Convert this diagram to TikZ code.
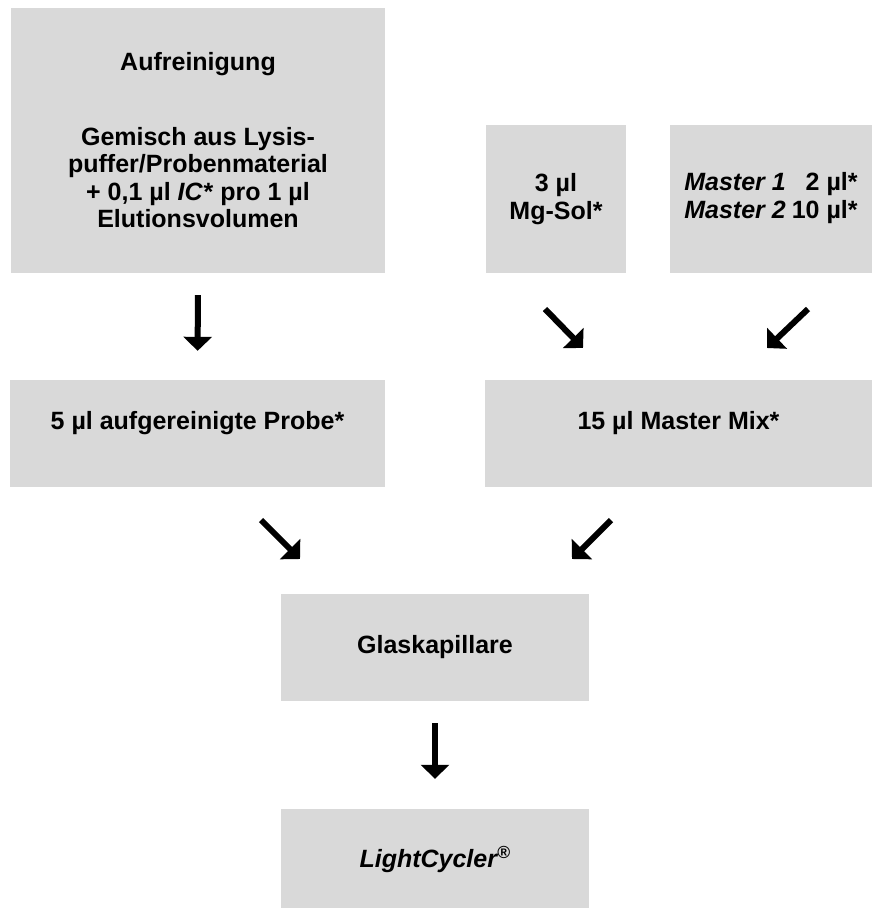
\documentclass[tikz,border=0pt]{standalone}
\usepackage{fontspec}
\setmainfont{Liberation Sans}
\usepackage{tikz}
\usetikzlibrary{arrows.meta}
\definecolor{boxgray}{HTML}{D9D9D9}

\begin{document}
\begin{tikzpicture}[x=1pt,y=-1pt,
    every node/.style={font=\fontsize{25}{27.5}\selectfont\bfseries},
    stepbox/.style={fill=boxgray,inner sep=0pt,align=center},
    highline/.style={text height=18pt,text depth=27pt},
    flow/.style={line width=6pt,-{Triangle[width=28pt,length=14pt]}},
  ]
  \useasboundingbox (0,0) rectangle (880,908);

  % top row
  \node[stepbox,minimum width=374pt,minimum height=265pt] (aufr) at (198,140.5)
    {Aufreinigung\\[47pt]Gemisch aus Lysis-\\puffer/Probenmaterial\\
     + 0,1 µl \textit{IC*} pro 1 µl\\Elutionsvolumen};
  \node[stepbox,minimum width=140pt,minimum height=148pt] (mg) at (556,199)
    {3 µl\\Mg-Sol*};
  \node[stepbox,minimum width=202pt,minimum height=148pt] (master) at (771,199)
    {\begin{tabular}{@{}l@{\hspace{6pt}}r@{}}
       \textit{Master 1} & 2 µl*\\
       \textit{Master 2} & 10 µl*
     \end{tabular}};

  % second row
  \node[stepbox,highline,minimum width=375pt,minimum height=107pt] (probe) at (197.5,433.5)
    {5 µl aufgereinigte Probe*};
  \node[stepbox,highline,minimum width=387pt,minimum height=107pt] (mix) at (678.5,433.5)
    {15 µl Master Mix*};

  % capillary and instrument
  \node[stepbox,minimum width=308pt,minimum height=107pt] (glas) at (435,647.5)
    {Glaskapillare};
  \node[stepbox,minimum width=308pt,minimum height=100pt] (lc) at (435,859)
    {\textit{LightCycler\textsuperscript{®}}};

  % free ends of the slanted arrows
  \coordinate (mgA) at (545,309);   \coordinate (mixA) at (583,348);
  \coordinate (masA) at (808,309);  \coordinate (mixB) at (767,348);
  \coordinate (prA) at (261,520);   \coordinate (glA) at (300,559);
  \coordinate (mxA) at (611,520);   \coordinate (glB) at (572,559);

  \draw[flow,shorten <=22pt,shorten >=29pt] (aufr.south) -- (probe.north);
  \draw[flow] (mgA) -- (mixA);
  \draw[flow] (masA) -- (mixB);
  \draw[flow] (prA) -- (glA);
  \draw[flow] (mxA) -- (glB);
  \draw[flow,shorten <=22pt,shorten >=30pt] (glas.south) -- (lc.north);
\end{tikzpicture}
\end{document}
